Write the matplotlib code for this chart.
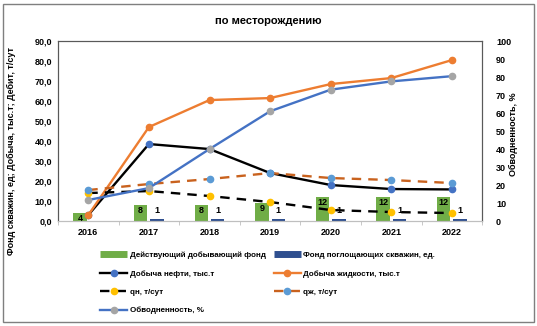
import numpy as np
import matplotlib
matplotlib.use("Agg")
import matplotlib.pyplot as plt
from matplotlib.lines import Line2D
from matplotlib.patches import Rectangle
from matplotlib.ticker import FuncFormatter, MultipleLocator

plt.rcParams['font.family'] = ['Liberation Sans', 'DejaVu Sans']
plt.rcParams['font.weight'] = 'bold'

# --- Data --- #
years        = ['2016', '2017', '2018', '2019', '2020', '2021', '2022']
active_fund  = [4, 8, 8, 9, 12, 12, 12]
inject_fund  = [0, 1, 1, 1, 1, 1, 1]
oil_prod     = [3.0, 38.5, 36.0, 24.0, 18.0, 16.0, 15.8]
liquid_prod  = [3.0, 47.0, 60.5, 61.5, 68.5, 71.5, 80.5]
q_oil        = [14.0, 15.0, 12.5, 9.5, 5.5, 4.5, 4.0]
q_liquid     = [15.5, 18.5, 21.0, 24.0, 21.5, 20.5, 19.0]
water_cut    = [11.7, 18.3, 40.0, 61.0, 73.0, 77.6, 80.5]

GREEN  = '#70AD47'
NAVY   = '#2F4F8F'
BLUE   = '#4472C4'
ORANGE = '#ED7D31'
DORANGE = '#C9621E'
LBLUE  = '#5B9BD5'
YELLOW = '#FFC000'
GRAY   = '#A5A5A5'
FS = 6.5

x = np.arange(len(years))

fig = plt.figure(figsize=(5.37, 3.26), dpi=100)
ax = fig.add_axes([0.108, 0.322, 0.790, 0.552])
ax2 = ax.twinx()

# bars
bw, off = 0.22, 0.135
ax.bar(x - off, active_fund, bw, color=GREEN, zorder=1)
ax.bar(x + off, inject_fund, bw, color=NAVY, zorder=1)
for xi, v in zip(x, active_fund):
    ax.text(xi - off, v - 0.6, str(v), ha='center', va='top', fontsize=FS, zorder=2)
for xi, v in zip(x, inject_fund):
    if v:
        ax.text(xi + off, v + 2.2, str(v), ha='center', va='bottom', fontsize=FS, zorder=2)

lw, ms = 1.7, 4.5
ax.plot(x, oil_prod, color='black', lw=lw, marker='o', ms=ms, mfc=BLUE, mec=BLUE, zorder=3)
ax.plot(x, liquid_prod, color=ORANGE, lw=lw, marker='o', ms=ms, mfc=ORANGE, mec=ORANGE, zorder=3)
ax.plot(x, q_oil, color='black', lw=lw, ls=(0, (4, 3)), marker='o', ms=ms, mfc=YELLOW, mec=YELLOW, zorder=3)
ax.plot(x, q_liquid, color=DORANGE, lw=lw, ls=(0, (4, 3)), marker='o', ms=ms, mfc=LBLUE, mec=LBLUE, zorder=3)
ax2.plot(x, water_cut, color=BLUE, lw=lw, marker='o', ms=ms, mfc=GRAY, mec=GRAY, zorder=3)

ax.set_xlim(-0.5, len(years) - 0.5)
ax.set_ylim(0, 90)
ax2.set_ylim(0, 100)
ax.yaxis.set_major_locator(MultipleLocator(10))
ax2.yaxis.set_major_locator(MultipleLocator(10))
ax.yaxis.set_major_formatter(FuncFormatter(lambda v, p: f'{v:.1f}'.replace('.', ',')))
ax2.yaxis.set_major_formatter(FuncFormatter(lambda v, p: f'{v:.0f}'))

ax.set_xticks(x)
ax.set_xticklabels(years)
ax.set_xticks(np.arange(-0.5, len(years)), minor=True)
ax.tick_params(axis='x', which='major', length=0, labelsize=FS, pad=5)
ax.tick_params(axis='x', which='minor', length=3, color='#BFBFBF')
ax.tick_params(axis='y', length=0, labelsize=FS, pad=4)
ax2.tick_params(axis='y', length=0, labelsize=FS, pad=10)

for a in (ax, ax2):
    for s in a.spines.values():
        s.set_color('#595959')
        s.set_linewidth(0.8)
ax.spines['bottom'].set_color('#BFBFBF')
ax2.spines['bottom'].set_color('#BFBFBF')

ax.set_ylabel('Фонд скважин, ед; Добыча, тыс.т; Дебит, т/сут', fontsize=FS,
              fontweight='bold')
ax.yaxis.set_label_coords(-0.1, 0.39)
ax2.set_ylabel('Обводненность, %', fontsize=FS, fontweight='bold')
ax2.yaxis.set_label_coords(1.064, 0.48)

fig.text(0.5, 0.935, 'по месторождению', ha='center', va='center', fontsize=8, fontweight='bold')

handles = [
    Line2D([], [], color=GREEN, lw=5, solid_capstyle='butt'),
    Line2D([], [], color='black', lw=lw, marker='o', ms=ms, mfc=BLUE, mec=BLUE),
    Line2D([], [], color='black', lw=lw, ls=(0, (4, 3)), marker='o', ms=ms, mfc=YELLOW, mec=YELLOW),
    Line2D([], [], color=BLUE, lw=lw, marker='o', ms=ms, mfc=GRAY, mec=GRAY),
    Line2D([], [], color=NAVY, lw=5, solid_capstyle='butt'),
    Line2D([], [], color=ORANGE, lw=lw, marker='o', ms=ms, mfc=ORANGE, mec=ORANGE),
    Line2D([], [], color=DORANGE, lw=lw, ls=(0, (4, 3)), marker='o', ms=ms, mfc=LBLUE, mec=LBLUE),
]
labels = ['Действующий добывающий фонд', 'Добыча нефти, тыс.т', 'qн, т/сут', 'Обводненность, %',
          'Фонд поглощающих скважин, ед.', 'Добыча жидкости, тыс.т', 'qж, т/сут']
fig.legend(handles, labels, ncol=2, loc='upper left', bbox_to_anchor=(0.186, 0.228),
           frameon=False, fontsize=5.8, handlelength=3.4, handletextpad=0.3,
           labelspacing=1.33, columnspacing=1.0, borderaxespad=0, borderpad=0)

fig.patches.append(Rectangle((0.006, 0.012), 0.988, 0.976, transform=fig.transFigure,
                             fill=False, edgecolor='#7F7F7F', lw=1.0))

fig.savefig('out.png', dpi=100)
